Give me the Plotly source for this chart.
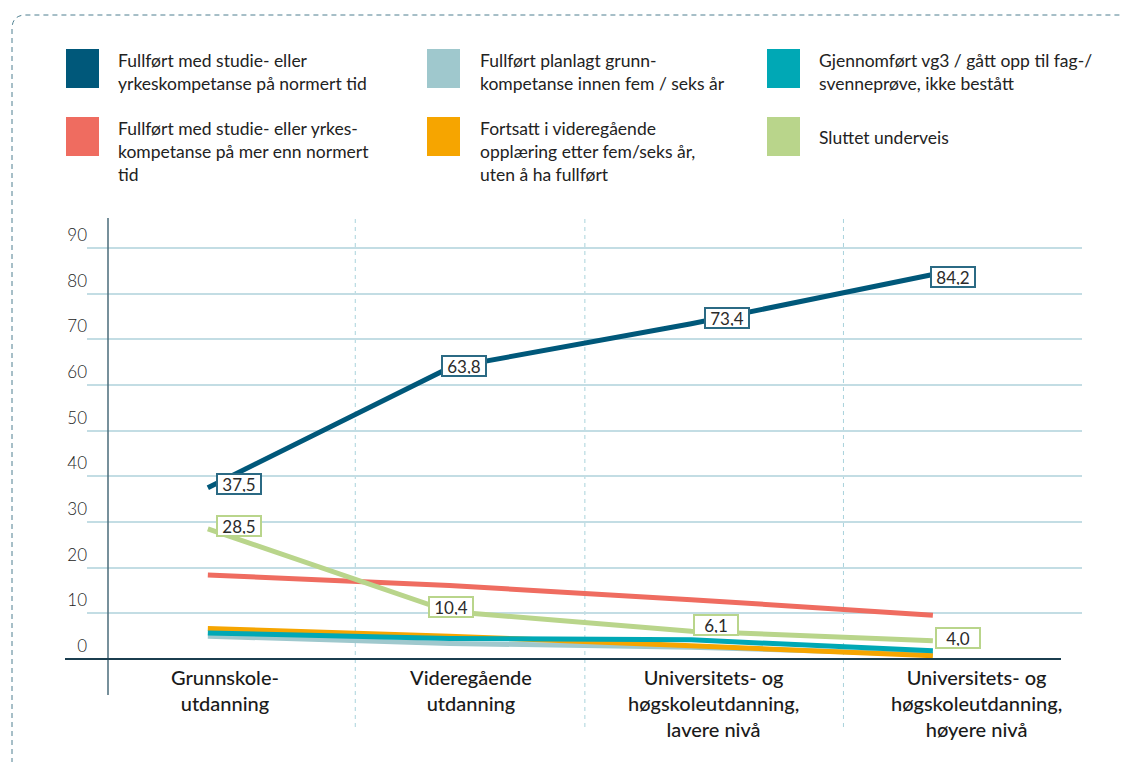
import plotly.graph_objects as go

categories = [
    "Grunnskole-<br>utdanning",
    "Videregående<br>utdanning",
    "Universitets- og<br>høgskoleutdanning,<br>lavere nivå",
    "Universitets- og<br>høgskoleutdanning,<br>høyere nivå",
]

names = [
    "Fullført med studie- eller<br>yrkeskompetanse på normert tid",
    "Fullført med studie- eller yrkes-<br>kompetanse på mer enn normert<br>tid",
    "Fullført planlagt grunn-<br>kompetanse innen fem / seks år",
    "Fortsatt i videregående<br>opplæring etter fem/seks år,<br>uten å ha fullført",
    "Gjennomført vg3 / gått opp til fag-/<br>svenneprøve, ikke bestått",
    "Sluttet underveis",
]

normert = [37.5, 63.8, 73.4, 84.2]
mer_enn_normert = [18.4, 16.1, 13.0, 9.6]
grunnkompetanse = [5.0, 3.4, 2.6, 1.0]
fortsatt = [6.7, 5.0, 2.9, 0.7]
ikke_bestatt = [5.7, 4.5, 4.2, 1.8]
sluttet = [28.5, 10.4, 6.1, 4.0]

y_ticks = [0, 10, 20, 30, 40, 50, 60, 70, 80, 90]

colors = ["#00587a", "#ef6c60", "#9fc8cd", "#f6a500", "#00a8b5", "#b9d58b"]
series = [normert, mer_enn_normert, grunnkompetanse, fortsatt, ikke_bestatt, sluttet]

W, H = 1123, 762
L, R, T, B = 87, 41, 218, 67
X0, X1 = -0.5, 3.617
Y0, Y1 = -7.88, 96.57
FONT = "Lato"


def px(x):
    return (x - L) / (W - L - R)


def py(y):
    return (H - B - y) / (H - T - B)


fig = go.Figure()

# draw order: pale ones first, main line on top
for i in [2, 1, 3, 4, 5, 0]:
    fig.add_trace(go.Scatter(
        x=list(range(len(categories))),
        y=series[i],
        mode="lines",
        line=dict(color=colors[i], width=5),
        hoverinfo="skip",
        showlegend=False,
    ))

shapes = []
annotations = []

# value labels for the two labelled series
label_shift = {
    0: [(31, 4), (14, 2), (36, 6), (20, -3)],
    5: [(31, 3), (1, 5), (25, 6), (25, 3)],
}
border_col = {0: "#2b6a84", 5: "#b9d58b"}
for s, shifts in label_shift.items():
    for i, v in enumerate(series[s]):
        annotations.append(dict(
            x=i, y=v, xref="x", yref="y", showarrow=False,
            text=f"{v:.1f}".replace(".", ","),
            xshift=shifts[i][0], yshift=shifts[i][1],
            bgcolor="white", bordercolor=border_col[s], borderwidth=2, borderpad=1,
            width=40, height=16,
            font=dict(family=FONT, size=17, color="#2b2b2b"),
        ))

# category labels under the axis
cat_shift = [17, 21, 22, 44]
for i, c in enumerate(categories):
    annotations.append(dict(
        x=i, y=0, xref="x", yref="y", showarrow=False,
        text=c, xshift=cat_shift[i], yshift=-4,
        xanchor="center", yanchor="top", align="center",
        font=dict(family=FONT, size=20, color="#1a1a1a", weight=500),
    ))

# dashed dividers between categories
for d in [0.61, 1.56, 2.63]:
    shapes.append(dict(
        type="line", xref="x", yref="paper", x0=d, x1=d, y0=py(727), y1=1,
        line=dict(color="#a9d3dc", width=1, dash="4px,4px"), layer="below",
    ))

# y axis line and zero line
shapes.append(dict(
    type="line", xref="paper", yref="paper", x0=px(108), x1=px(108), y0=0, y1=1,
    line=dict(color="#4a6b7a", width=1.5),
))
shapes.append(dict(
    type="line", xref="paper", yref="y", x0=px(65), x1=px(1061), y0=0, y1=0,
    line=dict(color="#1b3e4f", width=2),
))

# legend: 3 columns x 2 rows
leg_cols_sq = [66, 427, 767]
leg_cols_tx = [116, 478, 817]
leg_rows = [49, 117]
leg_order = [(0, 0), (1, 0), (0, 1), (1, 1), (0, 2), (1, 2)]
for s, (r, c) in enumerate(leg_order):
    top = leg_rows[r]
    shapes.append(dict(
        type="rect", xref="paper", yref="paper",
        x0=px(leg_cols_sq[c]), x1=px(leg_cols_sq[c] + 33),
        y0=py(top), y1=py(top + 39),
        fillcolor=colors[s], line=dict(width=0),
    ))
    single = "<br>" not in names[s]
    annotations.append(dict(
        x=px(leg_cols_tx[c]), y=py(top + 20) if single else py(top - 1.5),
        xref="paper", yref="paper", showarrow=False,
        text=names[s], xanchor="left", yanchor="middle" if single else "top",
        align="left",
        font=dict(family=FONT, size=17.5, color="#222222"),
    ))

# dashed outer frame with a rounded top-left corner
r = 14
shapes.append(dict(
    type="path", xref="paper", yref="paper",
    path=(f"M {px(12)},{py(790)} L {px(12)},{py(15 + r)} "
          f"Q {px(12)},{py(15)} {px(12 + r)},{py(15)} L {px(1140)},{py(15)}"),
    line=dict(color="#4e7f90", width=1, dash="5px,4px"),
))

fig.update_layout(
    width=W, height=H,
    margin=dict(l=L, r=R, t=T, b=B),
    paper_bgcolor="white", plot_bgcolor="white",
    showlegend=False,
    xaxis=dict(range=[X0, X1], showgrid=False, zeroline=False,
               showticklabels=False, showline=False, fixedrange=True),
    yaxis=dict(range=[Y0, Y1], tickvals=y_ticks, showgrid=False, zeroline=False,
               showline=False, ticks="", ticklabelshift=-13, ticklabelstandoff=-1,
               tickfont=dict(family=FONT, size=17, color="#222222", weight=300),
               minor=dict(tickvals=y_ticks[1:], showgrid=True,
                          gridcolor="#c3dde4", gridwidth=1.5, ticks=""),
               fixedrange=True),
    shapes=shapes,
    annotations=annotations,
)

fig.write_html("out.html", config={"displayModeBar": False},
               post_script="document.body.style.margin='0px';")
